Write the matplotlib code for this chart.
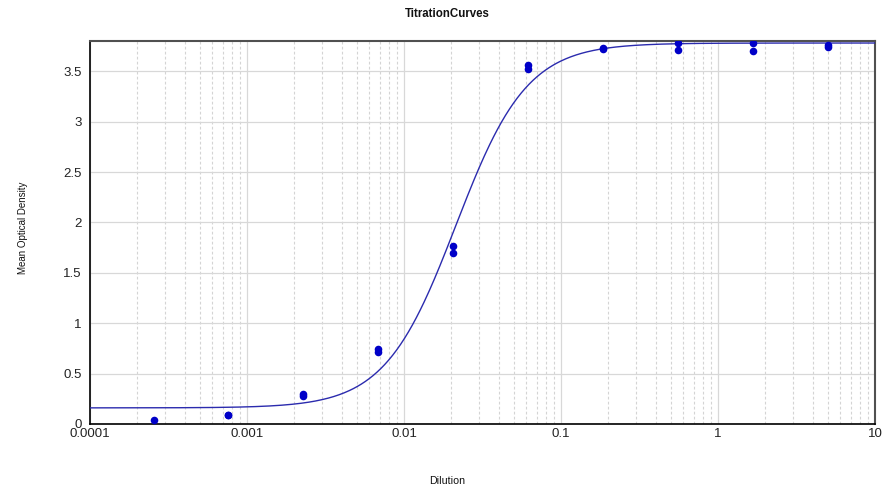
import numpy as np
import matplotlib
matplotlib.use("Agg")
import matplotlib.pyplot as plt
from matplotlib.ticker import LogLocator, NullFormatter, FixedLocator, FixedFormatter

# Data (3-fold dilution series, duplicate wells)
dilution = [0.000254, 0.000762, 0.000762, 0.00229, 0.00229, 0.00686, 0.00686,
            0.0206, 0.0206, 0.0617, 0.0617, 0.185, 0.185, 0.556, 0.556,
            1.667, 1.667, 5.0, 5.0]
mean_od = [0.04, 0.09, 0.09, 0.30, 0.28, 0.74, 0.71,
           1.77, 1.70, 3.56, 3.52, 3.72, 3.73, 3.78, 3.71,
           3.78, 3.70, 3.76, 3.74]

# Fitted 4-parameter logistic curve parameters
fit_bottom = 0.16
fit_top = 3.78
fit_ec50 = 0.0214
fit_slope = 1.92

x_ticks = [0.0001, 0.001, 0.01, 0.1, 1, 10]
x_ticklabels = ["0.0001", "0.001", "0.01", "0.1", "1", "10"]
y_ticks = [0, 0.5, 1, 1.5, 2, 2.5, 3, 3.5]
y_ticklabels = ["0", "0.5", "1", "1.5", "2", "2.5", "3", "3.5"]

plt.rcParams['font.family'] = ['Liberation Sans', 'DejaVu Sans']

fig = plt.figure(figsize=(8.91, 5.04), dpi=100)
ax = fig.add_axes([90/891, 1 - 424/504, (875-90)/891, (424-41)/504])

xs = np.logspace(-4, 1, 600)
ys = fit_top + (fit_bottom - fit_top) / (1 + (xs / fit_ec50) ** fit_slope)
ax.plot(xs, ys, color='#2b2bae', lw=1.0, zorder=3)
ax.scatter(dilution, mean_od, s=30, color='#0000c8', zorder=4, linewidths=0)

ax.set_xscale('log')
ax.set_xlim(0.0001, 10)
ax.set_ylim(0, 3.8)

ax.xaxis.set_major_locator(FixedLocator(x_ticks))
ax.xaxis.set_major_formatter(FixedFormatter(x_ticklabels))
ax.xaxis.set_minor_locator(LogLocator(base=10, subs=np.arange(2, 10), numticks=20))
ax.xaxis.set_minor_formatter(NullFormatter())
ax.yaxis.set_major_locator(FixedLocator(y_ticks))
ax.yaxis.set_major_formatter(FixedFormatter(y_ticklabels))

ax.grid(True, which='major', axis='both', color='#d8d8d8', lw=0.9, ls='-', zorder=0)
ax.grid(True, which='minor', axis='x', color='#d4d4d4', lw=0.8, ls=(0, (2.5, 2)), zorder=0)
ax.set_axisbelow(True)

ax.tick_params(axis='both', which='both', length=0, labelsize=9.5, colors='#222222')
ax.tick_params(axis='x', pad=3)
ax.tick_params(axis='y', pad=6)

for side in ['left', 'bottom']:
    ax.spines[side].set_color('black')
    ax.spines[side].set_linewidth(1.2)
for side in ['top', 'right']:
    ax.spines[side].set_color('#505050')
    ax.spines[side].set_linewidth(1.5)

fig.text(447/891, 1 - 14/504, "TitrationCurves", ha='center', va='center',
         fontsize=8.3, fontweight='bold', color='#111111')
fig.text(23/891, 1 - 228/504, "Mean Optical Density", ha='center', va='center',
         rotation=90, fontsize=7, color='#111111')
fig.text(447/891, 1 - 481/504, "Dilution", ha='center', va='center',
         fontsize=7.7, color='#111111')

fig.savefig("out.png", dpi=100)
